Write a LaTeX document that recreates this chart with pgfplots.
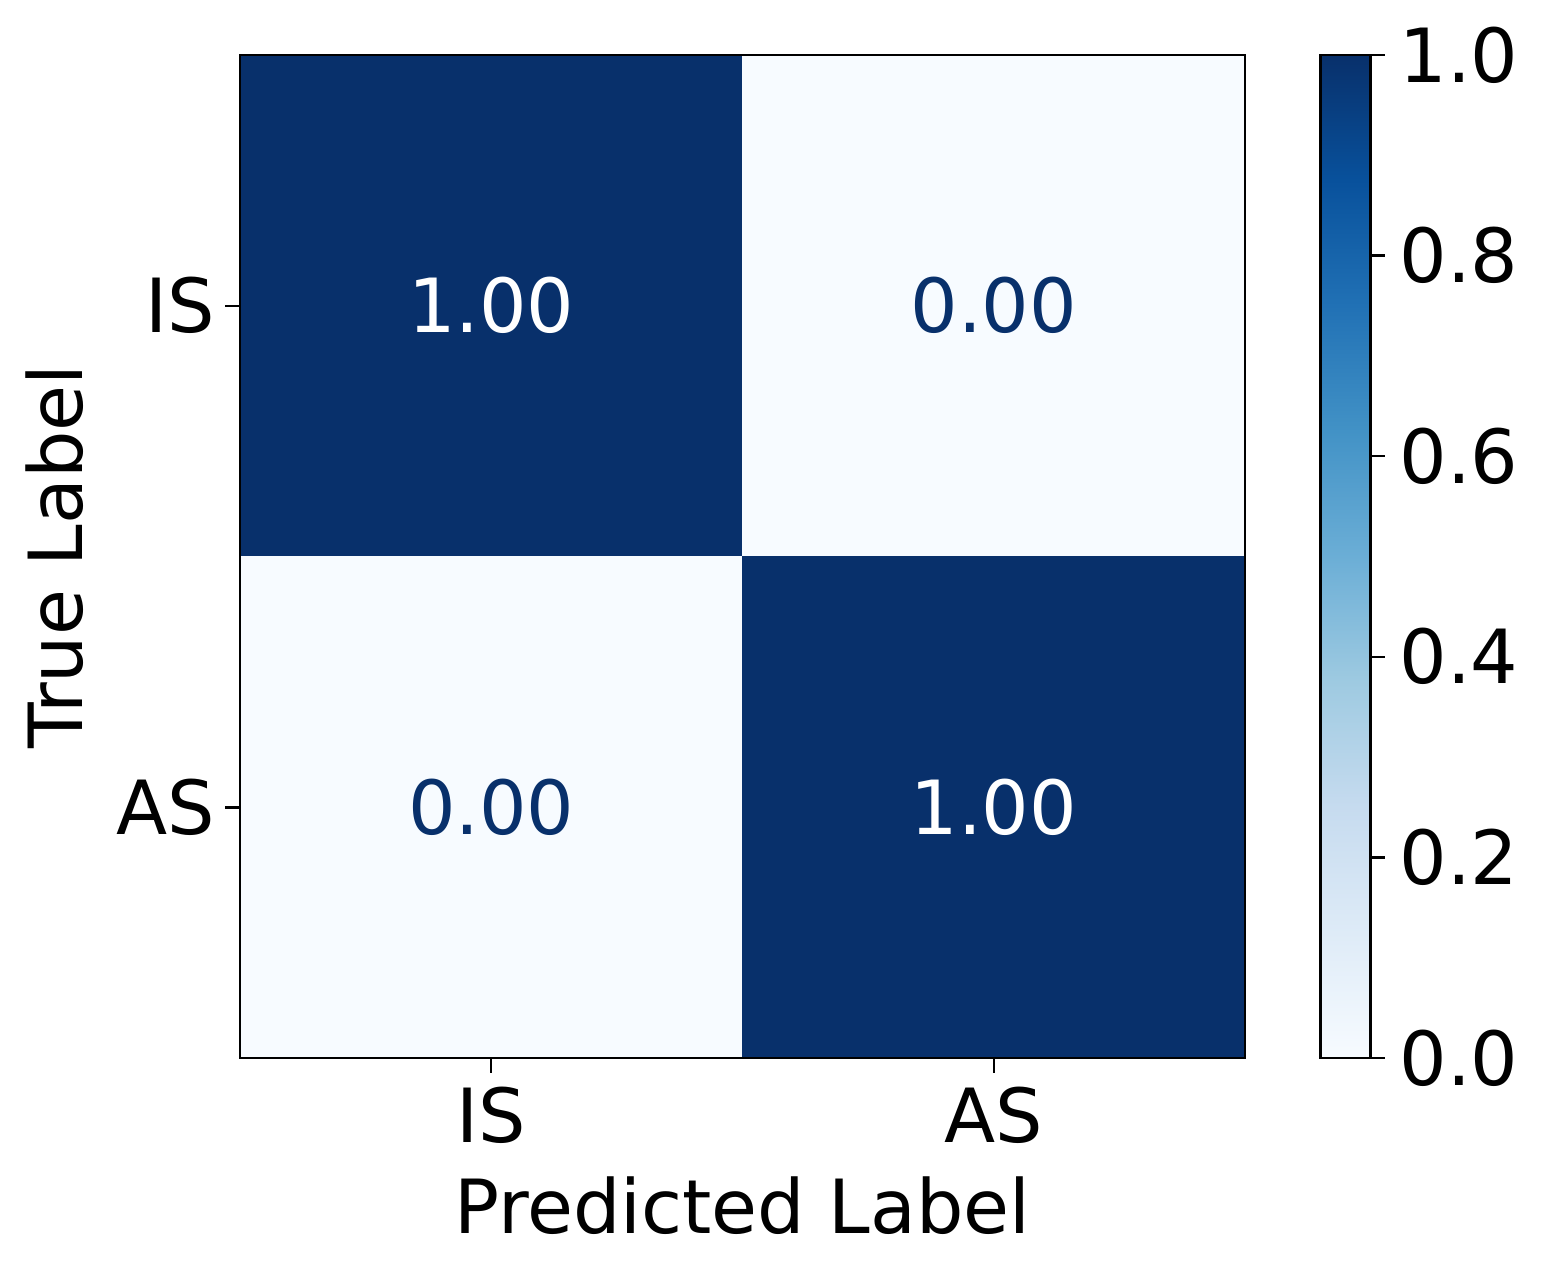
\documentclass[border=0pt]{standalone}
\usepackage{pgfplots}
\pgfplotsset{compat=1.18}
\usepackage{fontspec}
\setmainfont{DejaVu Sans}
\definecolor{dk}{RGB}{8,48,107}
\definecolor{lt}{RGB}{247,251,255}
\begin{document}
\begin{tikzpicture}
\path[use as bounding box] (0,0) rectangle (370.56bp,305.76bp);
\begin{axis}[
  at={(57.6bp,51.84bp)}, anchor=south west,
  scale only axis, width=241.2bp, height=240.72bp,
  xmin=-0.5, xmax=1.5, ymin=-0.5, ymax=1.5, y dir=reverse,
  xtick={0,1}, xticklabels={IS,AS},
  ytick={0,1}, yticklabels={IS,AS},
  tick align=outside, major tick length=3.5pt,
  xtick pos=bottom, ytick pos=left,
  axis line style={line width=0.6pt},
  every tick/.style={black, line width=0.6pt},
  tick label style={font=\fontsize{18}{21}\selectfont},
  yticklabel style={xshift=1bp},
  label style={font=\fontsize{18}{21}\selectfont},
  xlabel={Predicted Label}, ylabel={True Label},
  xlabel style={yshift=-1bp},
  ylabel style={yshift=1bp},
  colormap={blues}{rgb255=(247,251,255) rgb255=(222,235,247) rgb255=(198,219,239) rgb255=(158,202,225) rgb255=(107,174,214) rgb255=(66,146,198) rgb255=(33,113,181) rgb255=(8,81,156) rgb255=(8,48,107)},
  point meta min=0, point meta max=1,
  colorbar,
  colorbar style={
    at={(parent axis.north east)}, anchor=north west, xshift=9.6bp,
    scale only axis, width=12bp, height=240.72bp,
    ytick={0,0.2,0.4,0.6,0.8,1.0},
    ytick pos=right, xtick=\empty,
    yticklabel style={font=\fontsize{18}{21}\selectfont, /pgf/number format/.cd, fixed, fixed zerofill, precision=1, assume math mode=true},
    tick align=outside, major tick length=3.5pt,
    axis line style={line width=0.6pt},
    every tick/.style={black, line width=0.6pt},
  },
  axis on top,
]
\addplot[matrix plot*, mesh/cols=2, point meta=explicit] table[meta=c] {
x y c
0 0 1
1 0 0
0 1 0
1 1 1
};
\node[white, font=\fontsize{18}{21}\selectfont] at (axis cs:0,0) {1.00};
\node[dk, font=\fontsize{18}{21}\selectfont] at (axis cs:1,0) {0.00};
\node[dk, font=\fontsize{18}{21}\selectfont] at (axis cs:0,1) {0.00};
\node[white, font=\fontsize{18}{21}\selectfont] at (axis cs:1,1) {1.00};
\end{axis}
\end{tikzpicture}
\end{document}
